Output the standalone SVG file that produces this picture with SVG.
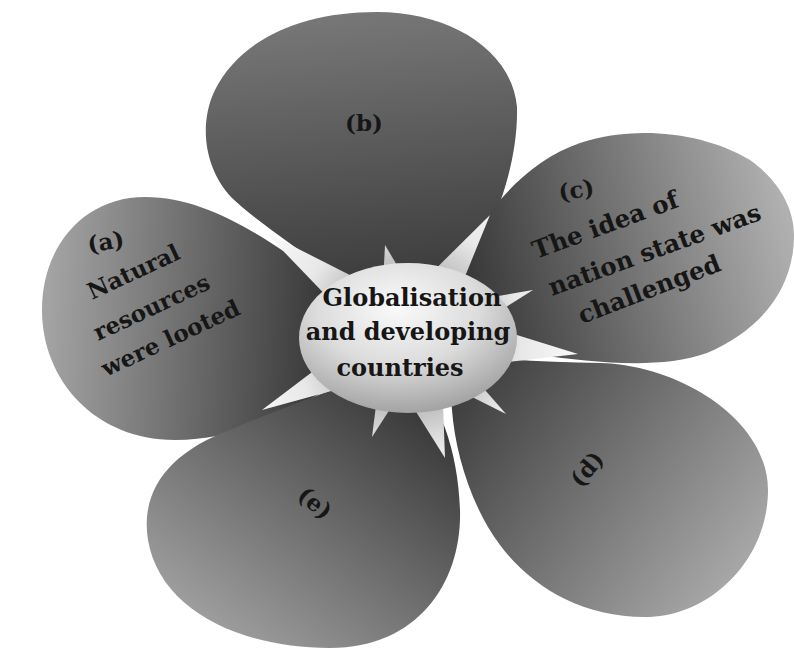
<svg xmlns="http://www.w3.org/2000/svg" width="794" height="657" viewBox="0 0 794 657">
  <defs>
    <linearGradient id="gA" gradientUnits="userSpaceOnUse" x1="45" y1="318" x2="360" y2="335">
      <stop offset="0" stop-color="#a4a4a4"/>
      <stop offset="1" stop-color="#2a2a2a"/>
    </linearGradient>
    <linearGradient id="gB" gradientUnits="userSpaceOnUse" x1="370" y1="12" x2="400" y2="300">
      <stop offset="0" stop-color="#777777"/>
      <stop offset="1" stop-color="#383838"/>
    </linearGradient>
    <linearGradient id="gC" gradientUnits="userSpaceOnUse" x1="450" y1="320" x2="790" y2="230">
      <stop offset="0" stop-color="#2e2e2e"/>
      <stop offset="1" stop-color="#b0b0b0"/>
    </linearGradient>
    <linearGradient id="gD" gradientUnits="userSpaceOnUse" x1="440" y1="360" x2="740" y2="590">
      <stop offset="0" stop-color="#333333"/>
      <stop offset="1" stop-color="#ababab"/>
    </linearGradient>
    <linearGradient id="gE" gradientUnits="userSpaceOnUse" x1="420" y1="370" x2="220" y2="640">
      <stop offset="0" stop-color="#2e2e2e"/>
      <stop offset="1" stop-color="#a0a0a0"/>
    </linearGradient>
    <radialGradient id="gRay" gradientUnits="userSpaceOnUse" cx="408" cy="338" r="190">
      <stop offset="0.35" stop-color="#b8b8b8"/>
      <stop offset="0.6" stop-color="#e8e8e8"/>
      <stop offset="1" stop-color="#ffffff"/>
    </radialGradient>
    <radialGradient id="gHub" cx="0.45" cy="0.3" r="0.75">
      <stop offset="0" stop-color="#fafafa"/>
      <stop offset="0.5" stop-color="#dcdcdc"/>
      <stop offset="1" stop-color="#9a9a9a"/>
    </radialGradient>
  </defs>
  <style>
    .lbl { font-family: "DejaVu Serif", "Liberation Serif", serif; font-weight: bold; fill: #161616; }
    .petal-txt { font-size: 23px; }
    .wide-txt { font-size: 24.5px; }
    .hub-txt { font-size: 24px; text-anchor: middle; }
    .tag { font-size: 23px; }
  </style>

  <rect width="794" height="657" fill="#ffffff"/>

  <!-- petal b (top) -->
  <g id="petal-b">
    <path d="M410,330 C440,300 470,268 488,232 C505,195 518,150 517,107 C512,50 450,12 377,12 C300,12 240,40 215,90 C198,125 205,170 232,198 C260,225 330,270 410,330 Z" fill="url(#gB)"/>
    <text class="lbl tag" x="364" y="131" text-anchor="middle">(b)</text>
  </g>

  <!-- petal a (left) -->
  <g id="petal-a">
    <path d="M415,335 C370,300 330,280 300,262 C250,228 200,197 145,197 C85,197 42,245 42,310 C42,380 95,440 175,440 C240,440 290,410 330,388 C360,372 390,352 415,335 Z" fill="url(#gA)"/>
    <text class="lbl tag" transform="translate(89,253) rotate(-10)">(a)</text>
    <text class="lbl petal-txt" transform="translate(92,300) rotate(-25)">Natural</text>
    <text class="lbl petal-txt" transform="translate(98,341) rotate(-25)">resources</text>
    <text class="lbl petal-txt" transform="translate(106,377) rotate(-25)">were looted</text>
  </g>

  <!-- petal c (right) -->
  <g id="petal-c">
    <path d="M420,330 C440,300 455,275 470,245 C490,205 530,160 580,143 C630,126 700,130 750,160 C785,185 794,215 794,235 C794,290 760,330 707,353 C660,370 590,362 540,355 C500,350 455,342 420,330 Z" fill="url(#gC)"/>
    <text class="lbl tag" transform="translate(560,201) rotate(-10)">(c)</text>
    <text class="lbl wide-txt" transform="translate(536,259) rotate(-20)">The idea of</text>
    <text class="lbl wide-txt" transform="translate(552,296) rotate(-20)">nation state was</text>
    <text class="lbl wide-txt" transform="translate(582,324) rotate(-21)">challenged</text>
  </g>

  <!-- petal e (lower left) -->
  <g id="petal-e">
    <path d="M405,360 C440,400 458,450 460,510 C462,580 420,648 330,648 C240,648 160,610 148,540 C140,490 170,452 230,430 C280,408 350,385 405,360 Z" fill="url(#gE)"/>
    <text class="lbl tag" transform="translate(315,503) rotate(40)" text-anchor="middle" dy="8">(e)</text>
  </g>

  <!-- petal d (lower right) -->
  <g id="petal-d">
    <path d="M425,345 C470,360 540,362 600,363 C680,365 768,420 768,490 C768,560 710,617 645,617 C580,617 530,585 500,545 C470,505 455,450 452,410 C450,380 440,360 425,345 Z" fill="url(#gD)"/>
    <text class="lbl tag" transform="translate(587,469) rotate(-50)" text-anchor="middle" dy="8">(d)</text>
  </g>

  <!-- central hub: burst of rays behind the oval -->
  <g id="hub">
    <g fill="url(#gRay)">
      <polygon points="265,232 349.8,275 330.8,300.6"/>
      <polygon points="385,245 399.2,268.9 383.6,272.7"/>
      <polygon points="490,215 461.8,284.3 436.8,267.7"/>
      <polygon points="533,290 498.2,312 492.4,297"/>
      <polygon points="578,354 506,362.3 508.8,332.5"/>
      <polygon points="506,414 469.1,395.5 478.9,382.9"/>
      <polygon points="445,458 414.3,409 442.9,400.2"/>
      <polygon points="372,437 376.5,401.4 391.5,406.8"/>
      <polygon points="262,410 320.7,365.4 333.1,390.6"/>
    </g>
    <ellipse cx="408" cy="338" rx="109" ry="75" fill="url(#gHub)"/>
    <text class="lbl hub-txt" x="412" y="306">Globalisation</text>
    <text class="lbl hub-txt" x="408" y="340">and developing</text>
    <text class="lbl hub-txt" x="400" y="376">countries</text>
  </g>
</svg>
